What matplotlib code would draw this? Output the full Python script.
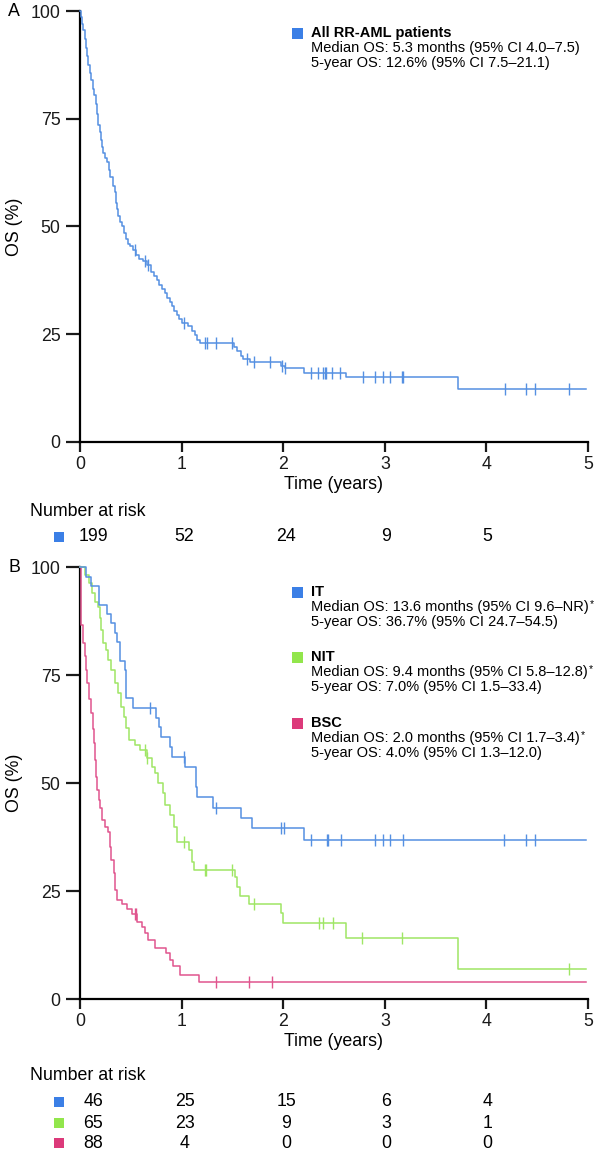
import numpy as np
import matplotlib
matplotlib.use("Agg")
import matplotlib.pyplot as plt
from matplotlib.patches import Rectangle
from matplotlib.transforms import blended_transform_factory

plt.rcParams['font.family'] = ['Liberation Sans', 'DejaVu Sans']

# --- data (time in years, OS in %) ---
all_t = [0, 0.01, 0.02, 0.03, 0.045, 0.06, 0.07, 0.08, 0.095, 0.11, 0.125, 0.14, 0.16,
         0.17, 0.18, 0.195, 0.205, 0.22, 0.23, 0.25, 0.27, 0.285, 0.30, 0.32, 0.34, 0.35,
         0.36, 0.375, 0.39, 0.41, 0.43, 0.45, 0.47, 0.49, 0.52, 0.55, 0.58, 0.62, 0.66,
         0.70, 0.73, 0.76, 0.78, 0.81, 0.84, 0.86, 0.89, 0.91, 0.93, 0.95, 0.97, 1.0,
         1.06, 1.10, 1.13, 1.15, 1.18, 1.52, 1.55, 1.58, 1.60, 1.67, 1.98, 2.02, 2.20,
         2.62, 3.72, 4.98]
all_s = [100, 98.5, 97, 95.5, 93.5, 91.5, 89.5, 87.5, 85.5, 84, 82, 80.5, 78.5,
         76, 73.5, 72, 70, 68.5, 67, 66, 65, 63, 61.5, 59.5, 58, 55.5,
         54, 52.5, 51, 50, 48.5, 47, 46, 45.5, 44.5, 43.5, 42.5, 42, 41,
         39.5, 38.5, 37.5, 36.5, 35.5, 34.5, 33.5, 32.5, 31.5, 30.5, 29.5, 28.5, 27.5,
         27, 25.8, 24.8, 23.7, 23, 22, 21, 20, 19.3, 18.5, 17.6, 17.1, 16.1,
         15.0, 12.4, 12.4]
all_cens = [0.54, 0.64, 0.67, 1.02, 1.23, 1.25, 1.34, 1.50, 1.64, 1.71, 1.87, 1.99, 2.02,
            2.27, 2.34, 2.39, 2.41, 2.42, 2.48, 2.56, 2.79, 2.90, 2.98, 3.05, 3.17, 3.18,
            4.18, 4.39, 4.48, 4.81]

it_t = [0, 0.06, 0.11, 0.19, 0.27, 0.31, 0.34, 0.36, 0.39, 0.44, 0.45, 0.52, 0.75, 0.78,
        0.80, 0.89, 0.91, 1.03, 1.14, 1.15, 1.31, 1.58, 1.69, 2.20, 4.98]
it_s = [100, 97.8, 95.7, 91.3, 89.1, 87.0, 84.8, 82.6, 78.3, 76.1, 69.6, 67.4, 65.0, 63.0,
        60.7, 58.4, 56.1, 53.8, 49.1, 46.7, 44.3, 42.0, 39.6, 36.7, 36.7]
it_cens = [0.69, 1.02, 1.34, 1.98, 2.01, 2.27, 2.43, 2.44, 2.57, 2.90, 2.98, 3.05, 3.18,
           4.17, 4.39, 4.48]

nit_t = [0, 0.05, 0.09, 0.12, 0.15, 0.18, 0.20, 0.21, 0.23, 0.26, 0.28, 0.31, 0.34, 0.37,
         0.40, 0.43, 0.45, 0.48, 0.54, 0.59, 0.66, 0.71, 0.74, 0.77, 0.82, 0.84, 0.89, 0.93,
         0.95, 1.07, 1.10, 1.12, 1.53, 1.55, 1.57, 1.66, 1.98, 2.00, 2.62, 3.72, 4.98]
nit_s = [100, 98.1, 96.3, 93.9, 92.0, 90.8, 88.1, 85.4, 82.3, 80.8, 78.5, 76.2, 73.1, 70.8,
         67.7, 65.3, 62.7, 60.0, 58.8, 57.6, 55.7, 53.8, 52.3, 50.0, 47.6, 44.9, 42.6, 39.9,
         36.4, 34.5, 31.8, 29.9, 28.3, 26.0, 23.8, 22.0, 20.0, 17.7, 14.1, 7.0, 7.0]
nit_cens = [0.64, 0.66, 1.02, 1.23, 1.24, 1.50, 1.71, 2.35, 2.39, 2.49, 2.78, 3.17, 4.81]

bsc_t = [0, 0.005, 0.01, 0.03, 0.05, 0.06, 0.07, 0.09, 0.105, 0.125, 0.14, 0.15, 0.16, 0.17,
         0.19, 0.20, 0.22, 0.25, 0.28, 0.30, 0.31, 0.33, 0.34, 0.36, 0.41, 0.46, 0.51, 0.56,
         0.61, 0.64, 0.67, 0.74, 0.85, 0.89, 0.92, 0.98, 1.17, 4.98]
bsc_s = [100, 93, 86.6, 82.3, 79.3, 76.2, 73.1, 69.4, 66.3, 62.5, 59.3, 55.3, 51.5, 48.4,
         46.1, 44.1, 41.4, 39.9, 38.7, 35.3, 32.2, 29.1, 25.2, 22.9, 22.1, 20.9, 19.7, 17.9,
         16.7, 15.2, 13.7, 11.7, 10.6, 9.0, 7.6, 5.5, 4.0, 4.0]
bsc_cens = [0.54, 0.55, 1.34, 1.66, 1.89]

risk_all = [199, 52, 24, 9, 5]
risk_it = [46, 25, 15, 6, 4]
risk_nit = [65, 23, 9, 3, 1]
risk_bsc = [88, 4, 0, 0, 0]

BLUE = '#3b7fe6'
GREEN = '#92e64c'
PINK = '#dc3a7a'
LBLUE = '#5590e2'
LGREEN = '#9fe665'
LPINK = '#e0558e'

FS_AX = 12.8   # ticks, axis labels, risk table
FS_LEG = 10.5  # legend block

W, H = 600, 1151
fig = plt.figure(figsize=(W / 100, H / 100), dpi=100)
renderer = fig.canvas.get_renderer()


def fx(px):
    return px / W


def fy(py):
    return 1 - py / H


def step_at(t, s, x):
    idx = np.searchsorted(np.asarray(t), x, side='right') - 1
    return np.asarray(s)[idx]


def km(ax, t, s, cens, color):
    ax.plot(t, s, drawstyle='steps-post', color=color, lw=1.1, clip_on=False, zorder=3)
    ax.plot(cens, step_at(t, s, cens), ls='none', marker='|', ms=9, mew=1.0,
            color=color, clip_on=False, zorder=3)


def style_axes(ax):
    ax.set_xlim(0, 5)
    ax.set_ylim(0, 100)
    ax.set_xticks([0, 1, 2, 3, 4, 5])
    ax.set_yticks([0, 25, 50, 75, 100])
    for sp in ['top', 'right']:
        ax.spines[sp].set_visible(False)
    for sp in ['left', 'bottom']:
        ax.spines[sp].set_linewidth(1.6)
    ax.tick_params(axis='y', length=10, width=1.6, labelsize=FS_AX, pad=4, colors='#1a1a1a')
    ax.tick_params(axis='x', length=7, width=1.6, labelsize=FS_AX, pad=3, colors='#1a1a1a')
    ax.set_ylabel('OS (%)', fontsize=FS_AX, va='center')
    ax.yaxis.set_label_coords(-0.128, 0.5)
    ax.set_xlabel('Time (years)', fontsize=FS_AX, labelpad=2)


def square(px, py, color, size=11):
    fig.add_artist(Rectangle((fx(px - size / 2), fy(py + size / 2)), size / W, size / H,
                             transform=fig.transFigure, color=color, lw=0))


def risk_row(ax, vals, py, color):
    trans = blended_transform_factory(ax.transData, fig.transFigure)
    square(59, py, color, size=10)
    xs = [0.13, 1.03, 2.03, 3.01, 4.01]
    for x, v in zip(xs, vals):
        ax.text(x, fy(py), str(v), transform=trans, ha='center', va='center', fontsize=FS_AX)


def legend_line(px, py, s, star=False, bold=False):
    t = fig.text(fx(px), fy(py), s, fontsize=FS_LEG, va='center',
                 fontweight='bold' if bold else 'normal')
    if star:
        bb = t.get_window_extent(renderer)
        fig.text(bb.x1 / W + 0.002, fy(py - 3), '*', fontsize=7.5, va='center')


# ---------- Panel A ----------
axA = fig.add_axes([fx(80), fy(442), 508 / W, 431 / H])
style_axes(axA)
km(axA, all_t, all_s, all_cens, LBLUE)
fig.text(fx(8), fy(11), 'A', fontsize=FS_AX, va='center')

square(297, 33, BLUE)
legend_line(311, 33, 'All RR-AML patients', bold=True)
legend_line(311, 48, 'Median OS: 5.3 months (95% CI 4.0\u20137.5)')
legend_line(311, 63, '5-year OS: 12.6% (95% CI 7.5\u201321.1)')

fig.text(fx(30), fy(511), 'Number at risk', fontsize=FS_AX, va='center')
risk_row(axA, risk_all, 537, BLUE)

# ---------- Panel B ----------
axB = fig.add_axes([fx(80), fy(999), 508 / W, 432 / H])
style_axes(axB)
km(axB, bsc_t, bsc_s, bsc_cens, LPINK)
km(axB, nit_t, nit_s, nit_cens, LGREEN)
km(axB, it_t, it_s, it_cens, LBLUE)
fig.text(fx(8), fy(567), 'B', fontsize=FS_AX, va='center')

groups = [
    ('IT', 'Median OS: 13.6 months (95% CI 9.6\u2013NR)', '5-year OS: 36.7% (95% CI 24.7\u201354.5)', BLUE, 592),
    ('NIT', 'Median OS: 9.4 months (95% CI 5.8\u201312.8)', '5-year OS: 7.0% (95% CI 1.5\u201333.4)', GREEN, 657),
    ('BSC', 'Median OS: 2.0 months (95% CI 1.7\u20133.4)', '5-year OS: 4.0% (95% CI 1.3\u201312.0)', PINK, 723),
]
for name, l1, l2, col, py in groups:
    square(297, py, col)
    legend_line(311, py, name, bold=True)
    legend_line(311, py + 15, l1, star=True)
    legend_line(311, py + 30, l2)

fig.text(fx(30), fy(1075), 'Number at risk', fontsize=FS_AX, va='center')
risk_row(axB, risk_it, 1102, BLUE)
risk_row(axB, risk_nit, 1123, GREEN)
risk_row(axB, risk_bsc, 1143, PINK)

fig.savefig('out.png', dpi=100)
